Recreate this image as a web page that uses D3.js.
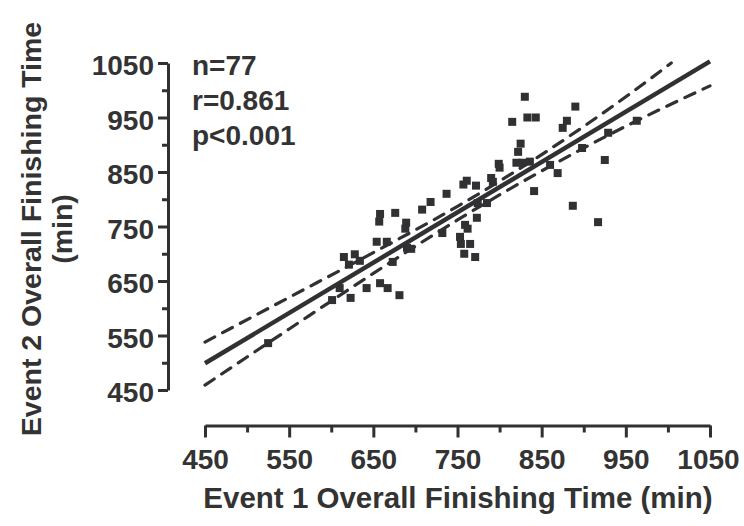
<!DOCTYPE html>
<html>
<head>
<meta charset="utf-8">
<script src="https://cdn.jsdelivr.net/npm/d3@7"></script>
<style>
  body { margin: 0; background: #fff; }
  text { font-family: "Liberation Sans", Arial, Helvetica, sans-serif; font-weight: bold; fill: #333; }
</style>
</head>
<body>
<div id="chart"></div>
<script>
// Data (minutes)
const event1 = [525, 601, 610, 623, 642, 658, 667, 681, 615, 628, 621, 634, 654, 666, 658, 657,
  676, 673, 689, 688, 690, 695, 708, 718, 737, 732, 757, 761, 772, 790, 792, 774, 785, 773,
  759, 762, 753, 754, 765, 758, 771, 799, 800, 825, 822, 820, 827, 836, 830, 815, 833, 843,
  890, 880, 875, 860, 869, 841, 898, 929, 963, 925, 887, 917];
const event2 = [536, 615, 637, 619, 637, 646, 637, 624, 694, 699, 680, 687, 722, 722, 773, 759,
  775, 685, 757, 746, 711, 709, 781, 795, 810, 738, 827, 834, 825, 839, 832, 793, 793, 766,
  753, 746, 731, 718, 718, 700, 694, 865, 858, 902, 887, 867, 867, 869, 988, 942, 950, 950,
  970, 944, 931, 863, 848, 815, 894, 922, 944, 872, 788, 758];

// regression line and 95% band
const fitX = [450, 1050];
const fitY = [499, 1053];
const upperX = [450, 550, 650, 750, 850, 950, 1004];
const upperY = [538, 620, 702, 787, 882, 988, 1050];
const lowerX = [450, 550, 650, 750, 850, 950, 1050];
const lowerY = [459, 562, 664, 762, 852, 934, 1008];

const majorTicks = [450, 550, 650, 750, 850, 950, 1050];
const minorTicks = [500, 600, 700, 800, 900, 1000];
const stats = ["n=77", "r=0.861", "p<0.001"];

const WIDTH = 744;
const HEIGHT = 526;
const ink = "#313133";

const svg = d3
  .select("#chart")
  .append("svg")
  .attr("width", WIDTH)
  .attr("height", HEIGHT);

const x = d3.scaleLinear().domain([450, 1050]).range([205, 710]);
const y = d3.scaleLinear().domain([450, 1050]).range([390, 63]);

// y axis
const yAxis = svg.append("g").attr("transform", "translate(168,0)");
yAxis.call(d3.axisLeft(y).tickValues(majorTicks).tickFormat(d3.format("d"))
  .tickSize(10).tickSizeOuter(0).tickPadding(4));
yAxis.append("g").call(d3.axisLeft(y).tickValues(minorTicks).tickSize(6).tickFormat(""))
  .select(".domain").remove();

// x axis
const xAxis = svg.append("g").attr("transform", "translate(0,425.5)");
xAxis.call(d3.axisBottom(x).tickValues(majorTicks).tickFormat(d3.format("d"))
  .tickSize(12).tickSizeOuter(0).tickPadding(12));
xAxis.append("g").call(d3.axisBottom(x).tickValues(minorTicks).tickSize(7).tickFormat(""))
  .select(".domain").remove();

svg.selectAll(".domain, .tick line").attr("stroke", ink).attr("stroke-width", 3);
svg.selectAll(".tick text").attr("font-size", 28).attr("fill", ink)
  .style("font-family", '"Liberation Sans", Arial, sans-serif').style("font-weight", "bold");
yAxis.selectAll(".tick text").attr("dy", "0.42em");
xAxis.selectAll(".tick text").filter(d => d === 1050).attr("dx", -2);

// points
svg
  .append("g")
  .selectAll("rect")
  .data(event1.map((d, i) => [d, event2[i]]))
  .join("rect")
  .attr("x", d => x(d[0]) - 4)
  .attr("y", d => y(d[1]) - 4)
  .attr("width", 8)
  .attr("height", 8)
  .attr("fill", ink);

// regression + confidence band
const line = d3.line().x(d => x(d[0])).y(d => y(d[1])).curve(d3.curveMonotoneX);

svg.append("path")
  .datum(fitX.map((d, i) => [d, fitY[i]]))
  .attr("d", line)
  .attr("fill", "none")
  .attr("stroke", ink)
  .attr("stroke-width", 4.5);

[[upperX, upperY], [lowerX, lowerY]].forEach(([bx, by]) => {
  svg.append("path")
    .datum(bx.map((d, i) => [d, by[i]]))
    .attr("d", line)
    .attr("fill", "none")
    .attr("stroke", ink)
    .attr("stroke-width", 3.2)
    .attr("stroke-linecap", "round")
    .attr("stroke-dasharray", "11,9");
});

// stats text
svg.append("g")
  .selectAll("text")
  .data(stats)
  .join("text")
  .attr("x", 192)
  .attr("y", (d, i) => 75 + i * 35)
  .attr("font-size", 28)
  .text(d => d);

// axis titles
svg.append("text")
  .attr("x", 458)
  .attr("y", 508)
  .attr("text-anchor", "middle")
  .attr("font-size", 29.5)
  .text("Event 1 Overall Finishing Time (min)");

const yTitle = svg.append("g").attr("transform", "rotate(-90)");
yTitle.append("text")
  .attr("x", -229)
  .attr("y", 41)
  .attr("text-anchor", "middle")
  .attr("font-size", 28.5)
  .text("Event 2 Overall Finishing Time");
yTitle.append("text")
  .attr("x", -229)
  .attr("y", 72)
  .attr("text-anchor", "middle")
  .attr("font-size", 28.5)
  .text("(min)");
</script>
</body>
</html>
